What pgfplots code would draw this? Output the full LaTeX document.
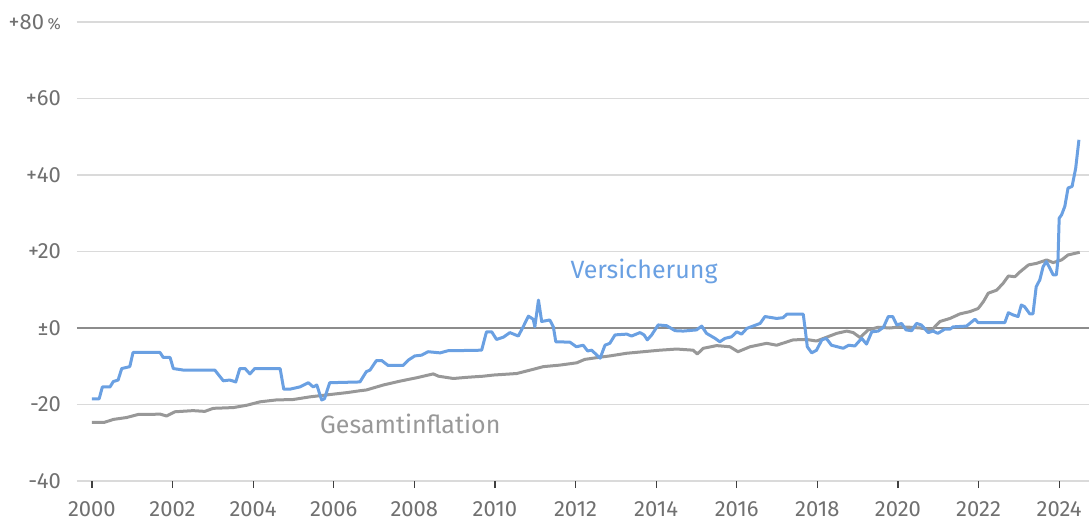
\documentclass[border=0pt]{standalone}
\usepackage{fontspec}
\setmainfont{Fira Sans}
\usepackage{pgfplots}
\pgfplotsset{compat=1.18}
\definecolor{blueline}{RGB}{106,160,226}
\definecolor{grayline}{RGB}{152,152,152}
\definecolor{ticktext}{RGB}{112,112,112}
\definecolor{gridc}{RGB}{218,218,218}
\begin{document}
\begin{tikzpicture}
\begin{axis}[
  scale only axis, width=506pt, height=229.5pt,
  xmin=1999.63, xmax=2024.74, ymin=-40, ymax=80,
  axis line style={draw=none},
  ytick={-40,-20,0,20,40,60,80},
  yticklabels={-40,-20,±0,+20,+40,+60,{+80\,{\footnotesize\%}}},
  xtick={2000,2002,2004,2006,2008,2010,2012,2014,2016,2018,2020,2022,2024},
  xticklabels={2000,2002,2004,2006,2008,2010,2012,2014,2016,2018,2020,2022,2024},
  ymajorgrids, grid style={gridc, line width=0.75pt},
  ytick style={draw=none},
  xtick style={draw=black!75, line width=0.6pt},
  major tick length=3.5pt, tick align=outside, xtick pos=bottom, ytick pos=left,
  tick label style={font=\fontsize{11}{13}\selectfont, text=ticktext},
  yticklabel style={xshift=-1pt},
  xticklabel style={yshift=-3pt},
  clip=false,
]
\draw[black!45, line width=0.6pt] (axis cs:1999.63,0) -- (axis cs:2024.74,0);
\addplot[grayline, line width=1.5pt, line join=round] coordinates {
(2000.00,-24.7) (2000.30,-24.7) (2000.53,-23.9) (2000.86,-23.4) (2001.15,-22.6) (2001.44,-22.6)
(2001.69,-22.5) (2001.85,-23.0) (2002.06,-21.9) (2002.51,-21.6) (2002.80,-21.8) (2003.01,-21.0)
(2003.51,-20.8) (2003.84,-20.2) (2004.17,-19.3) (2004.58,-18.8) (2004.99,-18.7) (2005.41,-18.0)
(2005.82,-17.5) (2006.32,-16.9) (2006.65,-16.4) (2006.81,-16.2) (2007.23,-14.9) (2007.64,-13.9)
(2008.06,-13.0) (2008.47,-12.0) (2008.60,-12.6) (2008.97,-13.2) (2009.29,-12.9) (2009.71,-12.6)
(2009.96,-12.3) (2010.54,-11.9) (2010.95,-10.8) (2011.20,-10.1) (2011.61,-9.7) (2012.03,-9.1)
(2012.23,-8.2) (2012.56,-7.7) (2012.85,-7.3) (2013.27,-6.6) (2013.68,-6.2) (2014.09,-5.8)
(2014.51,-5.5) (2014.92,-5.8) (2015.02,-6.8) (2015.17,-5.3) (2015.50,-4.6) (2015.83,-4.9)
(2016.03,-6.2) (2016.33,-4.9) (2016.74,-4.0) (2016.99,-4.5) (2017.40,-3.1) (2017.73,-3.0)
(2017.98,-3.4) (2018.23,-2.4) (2018.48,-1.4) (2018.73,-0.8) (2018.89,-1.2) (2019.06,-2.5)
(2019.26,-0.5) (2019.51,0.2) (2019.80,0.0) (2020.05,0.3) (2020.30,0.2) (2020.55,0.0)
(2020.84,-0.5) (2021.04,1.7) (2021.29,2.5) (2021.54,3.7) (2021.79,4.3) (2021.99,5.1)
(2022.12,6.9) (2022.24,9.1) (2022.45,9.9) (2022.61,11.7) (2022.74,13.6) (2022.90,13.4)
(2023.03,14.7) (2023.24,16.5) (2023.44,16.9) (2023.69,17.8) (2023.85,17.1) (2024.06,17.8)
(2024.22,19.1) (2024.51,19.8)
};
\addplot[blueline, line width=1.5pt, line join=round] coordinates {
(2000.00,-18.5) (2000.18,-18.5) (2000.26,-15.4) (2000.45,-15.4) (2000.53,-14.0) (2000.65,-13.6)
(2000.74,-10.6) (2000.94,-10.1) (2001.02,-6.4) (2001.69,-6.4) (2001.77,-7.7) (2001.94,-7.7)
(2002.02,-10.6) (2002.27,-11.0) (2003.05,-11.0) (2003.26,-13.8) (2003.42,-13.6) (2003.57,-14.1)
(2003.67,-10.6) (2003.80,-10.6) (2003.92,-12.0) (2004.04,-10.6) (2004.67,-10.6) (2004.76,-16.0)
(2004.91,-16.0) (2005.16,-15.4) (2005.37,-14.3) (2005.49,-15.4) (2005.58,-14.9) (2005.70,-18.8)
(2005.77,-18.5) (2005.90,-14.3) (2006.65,-14.1) (2006.81,-11.4) (2006.90,-11.0) (2007.06,-8.5)
(2007.19,-8.5) (2007.35,-9.8) (2007.72,-9.8) (2007.85,-8.4) (2008.01,-7.3) (2008.18,-7.1)
(2008.34,-6.2) (2008.64,-6.5) (2008.85,-5.9) (2009.13,-5.9) (2009.67,-5.8) (2009.79,-1.0)
(2009.92,-1.0) (2010.04,-3.0) (2010.21,-2.4) (2010.37,-1.2) (2010.58,-2.1) (2010.70,0.3)
(2010.83,3.1) (2010.95,2.3) (2010.99,0.3) (2011.08,7.3) (2011.16,1.7) (2011.36,2.1)
(2011.45,0.3) (2011.51,-3.6) (2011.86,-3.7) (2012.02,-4.9) (2012.19,-4.5) (2012.30,-6.0)
(2012.40,-5.8) (2012.61,-7.9) (2012.73,-4.5) (2012.85,-4.0) (2012.98,-1.8) (2013.27,-1.6)
(2013.39,-2.1) (2013.60,-1.2) (2013.70,-1.8) (2013.78,-3.1) (2013.89,-1.8) (2014.05,0.8)
(2014.26,0.6) (2014.47,-0.7) (2014.67,-0.8) (2015.00,-0.5) (2015.13,0.5) (2015.25,-1.4)
(2015.46,-2.7) (2015.58,-3.6) (2015.71,-2.7) (2015.87,-2.3) (2016.00,-1.0) (2016.12,-1.6)
(2016.25,-0.1) (2016.58,1.2) (2016.70,3.0) (2016.99,2.5) (2017.15,2.7) (2017.24,3.6)
(2017.65,3.6) (2017.70,-0.5) (2017.75,-4.9) (2017.86,-6.5) (2017.98,-5.8) (2018.11,-3.1)
(2018.22,-2.7) (2018.35,-4.5) (2018.64,-5.3) (2018.78,-4.5) (2018.93,-4.7) (2019.10,-2.7)
(2019.22,-4.2) (2019.35,-1.0) (2019.51,-0.8) (2019.64,0.2) (2019.76,3.0) (2019.87,3.0)
(2019.97,0.8) (2020.09,1.2) (2020.20,-0.5) (2020.34,-0.7) (2020.46,1.2) (2020.58,0.8)
(2020.75,-1.2) (2020.87,-0.8) (2020.99,-1.4) (2021.16,-0.3) (2021.29,-0.3) (2021.37,0.3)
(2021.70,0.5) (2021.91,2.3) (2021.99,1.4) (2022.65,1.4) (2022.74,4.0) (2022.86,3.4)
(2022.98,3.0) (2023.06,6.0) (2023.14,5.6) (2023.27,3.7) (2023.35,3.7) (2023.43,10.8)
(2023.52,12.6) (2023.60,16.0) (2023.68,17.4) (2023.77,15.6) (2023.85,13.9) (2023.93,13.9)
(2023.97,17.8) (2024.00,28.7) (2024.06,29.6) (2024.14,31.8) (2024.22,36.6) (2024.32,37.0)
(2024.41,41.8) (2024.49,49.2)
};
\node[text=blueline, font=\fontsize{12.5}{14}\selectfont] at (axis cs:2013.7,14.7) {Versicherung};
\node[text=grayline, font=\fontsize{12.5}{14}\selectfont] at (axis cs:2007.9,-25.1) {Gesamtinflation};
\end{axis}
\pgfresetboundingbox
\path (current axis.south west) ++(-38.5pt,-21pt) coordinate (bbsw);
\path (current axis.north east) ++(0pt,11pt) coordinate (bbne);
\useasboundingbox (bbsw) rectangle (bbne);
\end{tikzpicture}
\end{document}
